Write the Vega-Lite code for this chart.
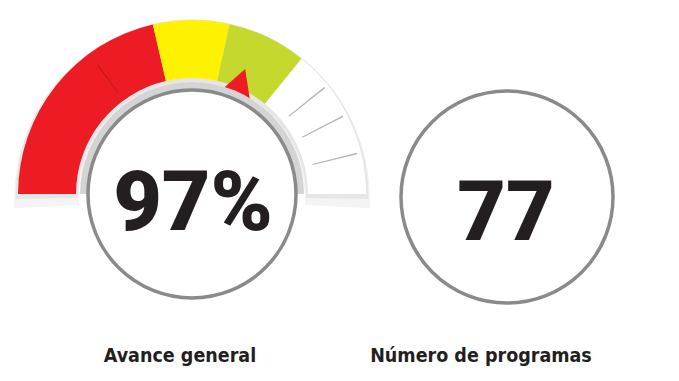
{
  "$schema": "https://vega.github.io/schema/vega-lite/v6.json",
  "width": 679,
  "height": 381,
  "padding": 0,
  "autosize": {"type": "fit", "contains": "padding"},
  "background": "#ffffff",
  "config": {"view": {"stroke": null}},
  "encoding": {
    "x": {"field": "cx", "type": "quantitative", "scale": {"domain": [0, 679], "zero": false, "nice": false}, "axis": null},
    "y": {"field": "cy", "type": "quantitative", "scale": {"domain": [0, 381], "reverse": true, "zero": false, "nice": false}, "axis": null}
  },
  "layer": [
    {
      "data": {"values": [
        {"cx": 192, "cy": 199, "g1": -3, "g2": 183, "r1": 113, "r2": 178}
      ]},
      "mark": {"type": "arc", "color": "#f4f4f4"},
      "encoding": {
        "theta": {"field": "g1", "type": "quantitative", "scale": {"domain": [0, 180], "range": [-1.5708, 1.5708]}},
        "theta2": {"field": "g2"},
        "radius": {"field": "r2", "type": "quantitative", "scale": {"type": "linear", "domain": [0, 381], "range": [0, 381], "zero": true}},
        "radius2": {"field": "r1"}
      }
    },
    {
      "data": {"values": [{"cx": 192, "cy": 196, "g1": -1, "g2": 181, "r1": 114, "r2": 176.5}]},
      "mark": {"type": "arc", "color": "#e6e6e6"},
      "encoding": {
        "theta": {"field": "g1", "type": "quantitative"},
        "theta2": {"field": "g2"},
        "radius": {"field": "r2", "type": "quantitative"},
        "radius2": {"field": "r1"}
      }
    },
    {
      "data": {"values": [
        {"cx": 192, "cy": 194, "seg": "rojo", "g1": 0, "g2": 77, "r1": 116, "r2": 174},
        {"cx": 192, "cy": 194, "seg": "amarillo", "g1": 77, "g2": 102.5, "r1": 116, "r2": 174},
        {"cx": 192, "cy": 194, "seg": "verde", "g1": 102.5, "g2": 129, "r1": 116, "r2": 174},
        {"cx": 192, "cy": 194, "seg": "blanco", "g1": 129, "g2": 180, "r1": 116, "r2": 174}
      ]},
      "mark": {"type": "arc"},
      "encoding": {
        "theta": {"field": "g1", "type": "quantitative"},
        "theta2": {"field": "g2"},
        "radius": {"field": "r2", "type": "quantitative"},
        "radius2": {"field": "r1"},
        "color": {"field": "seg", "type": "nominal", "legend": null, "scale": {"domain": ["rojo", "amarillo", "verde", "blanco"], "range": ["#ed1c24", "#fff200", "#c4d82e", "#ffffff"]}}
      }
    },
    {
      "data": {"values": [{"cx": 192, "cy": 194, "g1": 53.6, "g2": 54.1, "r1": 126, "r2": 160}]},
      "mark": {"type": "arc", "color": "#c8181f"},
      "encoding": {
        "theta": {"field": "g1", "type": "quantitative"},
        "theta2": {"field": "g2"},
        "radius": {"field": "r2", "type": "quantitative"},
        "radius2": {"field": "r1"}
      }
    },
    {
      "data": {"values": [
        {"cx": 192, "cy": 194, "g1": 141, "g2": 141.5, "r1": 124, "r2": 170},
        {"cx": 192, "cy": 194, "g1": 152.5, "g2": 153, "r1": 124, "r2": 170},
        {"cx": 192, "cy": 194, "g1": 166, "g2": 166.5, "r1": 124, "r2": 170}
      ]},
      "mark": {"type": "arc", "color": "#b4b4b4"},
      "encoding": {
        "theta": {"field": "g1", "type": "quantitative"},
        "theta2": {"field": "g2"},
        "radius": {"field": "r2", "type": "quantitative"},
        "radius2": {"field": "r1"}
      }
    },
    {
      "data": {"values": [{"cx": 239, "cy": 86}]},
      "mark": {"type": "point", "shape": "M0,-1L1.1,1L-1.1,1Z", "size": 1300, "angle": 20, "filled": true, "opacity": 1, "color": "#ed1c24"}
    },
    {
      "data": {"values": [{"cx": 192, "cy": 194, "g1": 0, "g2": 180, "r1": 0, "r2": 112}]},
      "mark": {"type": "arc", "color": "#d4d4d4"},
      "encoding": {
        "theta": {"field": "g1", "type": "quantitative"},
        "theta2": {"field": "g2"},
        "radius": {"field": "r2", "type": "quantitative"},
        "radius2": {"field": "r1"}
      }
    },
    {
      "data": {"values": [
        {"cx": 192, "cy": 194, "g1": -90, "g2": 270, "r1": 0, "r2": 104},
        {"cx": 507, "cy": 197, "g1": -90, "g2": 270, "r1": 0, "r2": 106}
      ]},
      "mark": {"type": "arc", "fill": "#ffffff", "stroke": "#8a8a8a", "strokeWidth": 3.5},
      "encoding": {
        "theta": {"field": "g1", "type": "quantitative"},
        "theta2": {"field": "g2"},
        "radius": {"field": "r2", "type": "quantitative"},
        "radius2": {"field": "r1"}
      }
    },
    {
      "data": {"values": [
        {"cx": 193, "cy": 230, "t": "97%"},
        {"cx": 506, "cy": 240, "t": "77"}
      ]},
      "mark": {"type": "text", "font": "Roboto", "fontWeight": 900, "fontSize": 84, "align": "center", "baseline": "alphabetic", "color": "#231f20"},
      "encoding": {"text": {"field": "t"}}
    },
    {
      "data": {"values": [
        {"cx": 180, "cy": 362, "t": "Avance general"},
        {"cx": 481, "cy": 362, "t": "Número de programas"}
      ]},
      "mark": {"type": "text", "font": "DejaVu Sans Condensed", "fontWeight": "bold", "fontSize": 19.5, "align": "center", "baseline": "alphabetic", "color": "#231f20"},
      "encoding": {"text": {"field": "t"}}
    }
  ]
}
